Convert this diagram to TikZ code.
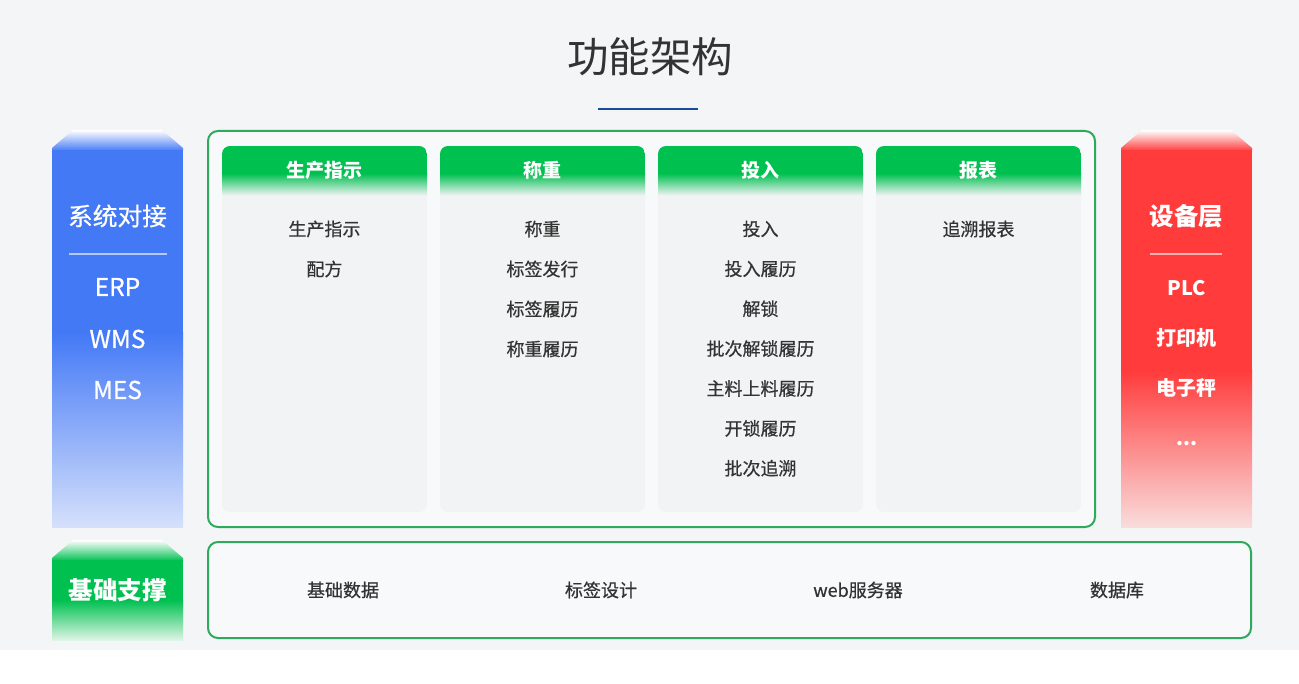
\documentclass[tikz,border=0pt]{standalone}
\usepackage{fontspec}
\setmainfont{Noto Sans CJK SC}
\newfontfamily\semifont{Noto Sans CJK SC}[FakeBold=0.6]
\definecolor{bg}{HTML}{F4F5F7}
\definecolor{txt}{HTML}{333333}
\definecolor{uline}{HTML}{1A4A9C}
\definecolor{blu}{HTML}{4479F6}
\definecolor{blulight}{HTML}{D5E0FB}
\definecolor{rd}{HTML}{FF3B3B}
\definecolor{rdlight}{HTML}{FADCDC}
\definecolor{grn}{HTML}{00C050}
\definecolor{grnlight}{HTML}{DDF5E6}
\definecolor{frame}{HTML}{2FAA5C}
\definecolor{framefill}{HTML}{F8F9FA}
\definecolor{cardbg}{HTML}{F2F3F5}
\begin{document}
\begin{tikzpicture}[x=1pt,y=-1pt,
  every node/.style={inner sep=0pt},
  title/.style={font=\fontsize{41.5}{48}\selectfont, text=txt},
  item/.style={font=\fontsize{18}{21}\selectfont\semifont, text=txt},
  head/.style={font=\fontsize{19}{22}\selectfont\bfseries, text=white},
  coltitle/.style={font=\fontsize{24.7}{29}\selectfont\semifont, text=white},
  colitem/.style={font=\fontsize{24.5}{29}\selectfont\semifont, text=white},
  redtitle/.style={font=\fontsize{24.5}{29}\selectfont\bfseries, text=white},
  reditem/.style={font=\fontsize{20}{24}\selectfont\bfseries, text=white},
  framebox/.style={draw=frame, line width=2pt, fill=framefill, rounded corners=10pt},
  sepline/.style={draw=white, draw opacity=0.6, line width=1.5pt}
]
\useasboundingbox (0,0) rectangle (1299,684);
\fill[white] (0,0) rectangle (1299,684);
\fill[bg] (0,0) rectangle (1299,650);

% title
\node[title] (title) at (650,57) {功能架构};
\draw[uline, line width=2pt] (598,109) -- (698,109);

% left blue column
\shade[top color=white, bottom color=blu] (52,148) -- (73,130) -- (162,130) -- (183,148) -- (183,151) -- (52,151) -- cycle;
\fill[blu] (52,150) rectangle (183,334);
\shade[top color=blu, bottom color=blulight] (52,333) rectangle (183,527);
\node[coltitle] (sys) at (117.5,216) {系统对接};
\draw[sepline] (69,254) -- (167,254);
\node[colitem] (erp) at (117.5,287) {ERP};
\node[colitem] (wms) at (117.5,339) {WMS};
\node[colitem] (mes) at (117.5,390) {MES};

% right red column
\shade[top color=white, bottom color=rd] (1121,148) -- (1142,130) -- (1231,130) -- (1252,148) -- (1252,151) -- (1121,151) -- cycle;
\fill[rd] (1121,150) rectangle (1252,371);
\shade[top color=rd, bottom color=rdlight] (1121,370) rectangle (1252,527);
\node[redtitle] (dev) at (1186.5,216) {设备层};
\draw[sepline] (1150,254) -- (1222,254);
\node[reditem] (plc) at (1186.5,288) {PLC};
\node[reditem] (printer) at (1186.5,338) {打印机};
\node[reditem] (scale) at (1186.5,388) {电子秤};
\node[reditem] (more) at (1187,444) {...};

% bottom green block
\shade[top color=white, bottom color=grn] (52,558) -- (73,540) -- (162,540) -- (183,558) -- (183,561) -- (52,561) -- cycle;
\fill[grn] (52,560) rectangle (183,601);
\shade[top color=grn, bottom color=grnlight] (52,600) rectangle (183,640);
\node[redtitle] (base) at (117.5,590) {基础支撑};

% main frame
\path[framebox] (208,131) rectangle (1095,527);
\path[framebox] (208,542) rectangle (1251,638);

% cards
\foreach \x/\t [count=\n] in {222/生产指示,440/称重,658/投入,876/报表}{
  \fill[cardbg, rounded corners=8pt] (\x,146) rectangle ++(205,366);
  \begin{scope}
    \clip[rounded corners=8pt] (\x,146) rectangle ++(205,366);
    \fill[grn] (\x,146) rectangle ++(205,28);
    \shade[top color=grn, bottom color=cardbg] (\x,173.5) rectangle ++(205,22);
  \end{scope}
  \node[head] (h\n) at ({\x+102.5},170) {\t};
}

\foreach \t [count=\k] in {生产指示,配方}
  \node[item] (a\k) at (324.5,{189+40*\k}) {\t};
\foreach \t [count=\k] in {称重,标签发行,标签履历,称重履历}
  \node[item] (b\k) at (542.5,{189+40*\k}) {\t};
\foreach \t [count=\k] in {投入,投入履历,解锁,批次解锁履历,主料上料履历,开锁履历,批次追溯}
  \node[item] (c\k) at (760.5,{189+39.9*\k}) {\t};
\foreach \t [count=\k] in {追溯报表}
  \node[item] (d\k) at (978.5,{189+40*\k}) {\t};

% bottom items
\node[item] (e1) at (343,590) {基础数据};
\node[item] (e2) at (601,590) {标签设计};
\node[item] (e3) at (858,590) {web服务器};
\node[item] (e4) at (1117,590) {数据库};
\end{tikzpicture}
\end{document}
